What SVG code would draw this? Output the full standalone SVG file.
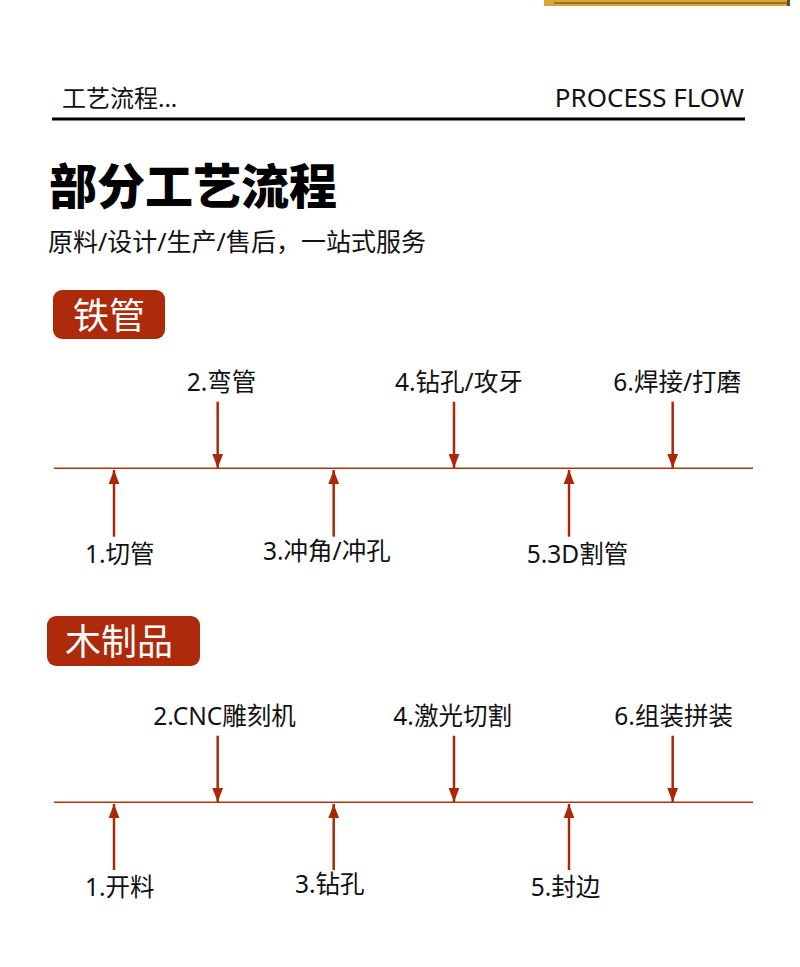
<svg xmlns="http://www.w3.org/2000/svg" width="800" height="967" viewBox="0 0 800 967">
<style>
text{font-family:"Noto Sans","Noto Sans CJK SC",sans-serif;fill:#111}
.lbl{font-size:24.5px}
.tag{font-size:36px;fill:#fff}
.tagbox{fill:#ad2b0a}
.axis{stroke:#b3340f;stroke-width:1.4;fill:none}
.shaft{stroke:#a8290a;stroke-width:2.5;fill:none}
.head{fill:#a8290a}
</style>
<defs>
<marker id="ah" viewBox="0 0 14 12" refX="14" refY="6" markerWidth="14" markerHeight="12" markerUnits="userSpaceOnUse" orient="auto">
<path d="M0,0.6 L14,6 L0,11.4 Z" class="head"/>
</marker>
</defs>
<rect width="800" height="967" fill="#fff"/>
<g id="corner-decor">
<rect x="544" y="0" width="246" height="6" fill="#d9a43a"/>
<line x1="554" y1="3" x2="788" y2="3" stroke="#5e4013" stroke-width="1"/>
<rect x="787" y="0" width="3" height="6" fill="#6a4815"/>
</g>
<g id="header">
<text x="62" y="107" style="font-size:24px">工艺流程...</text>
<text x="744" y="107" text-anchor="end" style="font-size:26px">PROCESS FLOW</text>
<rect x="52" y="117.5" width="693" height="3" fill="#000"/>
</g>
<g id="title">
<text x="49" y="204" style="font-size:48px;font-weight:900;fill:#000">部分工艺流程</text>
<text x="48" y="251" style="font-size:25px">原料/设计/生产/售后，一站式服务</text>
</g>
<g id="tag-tieguan">
<rect x="53" y="290" width="112" height="49" rx="9" class="tagbox"/>
<text x="73" y="329" class="tag">铁管</text>
</g>
<g id="tag-muzhipin">
<rect x="47" y="616" width="153" height="50" rx="9" class="tagbox"/>
<text x="65" y="655" class="tag">木制品</text>
</g>
<g id="connectors">
<line x1="54" y1="468.3" x2="753" y2="468.3" class="axis"/>
<line x1="217.7" y1="401.7" x2="217.7" y2="468" class="shaft" marker-end="url(#ah)"/>
<line x1="454" y1="401.7" x2="454" y2="468" class="shaft" marker-end="url(#ah)"/>
<line x1="672.7" y1="401.7" x2="672.7" y2="468" class="shaft" marker-end="url(#ah)"/>
<line x1="114" y1="536.7" x2="114" y2="470" class="shaft" marker-end="url(#ah)"/>
<line x1="333.7" y1="536.7" x2="333.7" y2="470" class="shaft" marker-end="url(#ah)"/>
<line x1="569" y1="536.7" x2="569" y2="470" class="shaft" marker-end="url(#ah)"/>
<line x1="54" y1="802.3" x2="753" y2="802.3" class="axis"/>
<line x1="217.7" y1="735.7" x2="217.7" y2="802" class="shaft" marker-end="url(#ah)"/>
<line x1="454" y1="735.7" x2="454" y2="802" class="shaft" marker-end="url(#ah)"/>
<line x1="672.7" y1="735.7" x2="672.7" y2="802" class="shaft" marker-end="url(#ah)"/>
<line x1="114" y1="870" x2="114" y2="804" class="shaft" marker-end="url(#ah)"/>
<line x1="333.7" y1="870" x2="333.7" y2="804" class="shaft" marker-end="url(#ah)"/>
<line x1="569" y1="870" x2="569" y2="804" class="shaft" marker-end="url(#ah)"/>
</g>
<g id="step-tg-1"><text x="85" y="563" class="lbl">1.切管</text></g>
<g id="step-tg-2"><text x="186.7" y="391" class="lbl">2.弯管</text></g>
<g id="step-tg-3"><text x="263" y="560" class="lbl">3.冲角/冲孔</text></g>
<g id="step-tg-4"><text x="395" y="391" class="lbl">4.钻孔/攻牙</text></g>
<g id="step-tg-5"><text x="526.7" y="563" class="lbl">5.3D割管</text></g>
<g id="step-tg-6"><text x="613.3" y="391" class="lbl">6.焊接/打磨</text></g>
<g id="step-mz-1"><text x="85" y="896" class="lbl">1.开料</text></g>
<g id="step-mz-2"><text x="153.3" y="725" class="lbl">2.CNC雕刻机</text></g>
<g id="step-mz-3"><text x="295" y="893" class="lbl">3.钻孔</text></g>
<g id="step-mz-4"><text x="393.3" y="725" class="lbl">4.激光切割</text></g>
<g id="step-mz-5"><text x="530.7" y="896" class="lbl">5.封边</text></g>
<g id="step-mz-6"><text x="614.3" y="725" class="lbl">6.组装拼装</text></g>
</svg>
